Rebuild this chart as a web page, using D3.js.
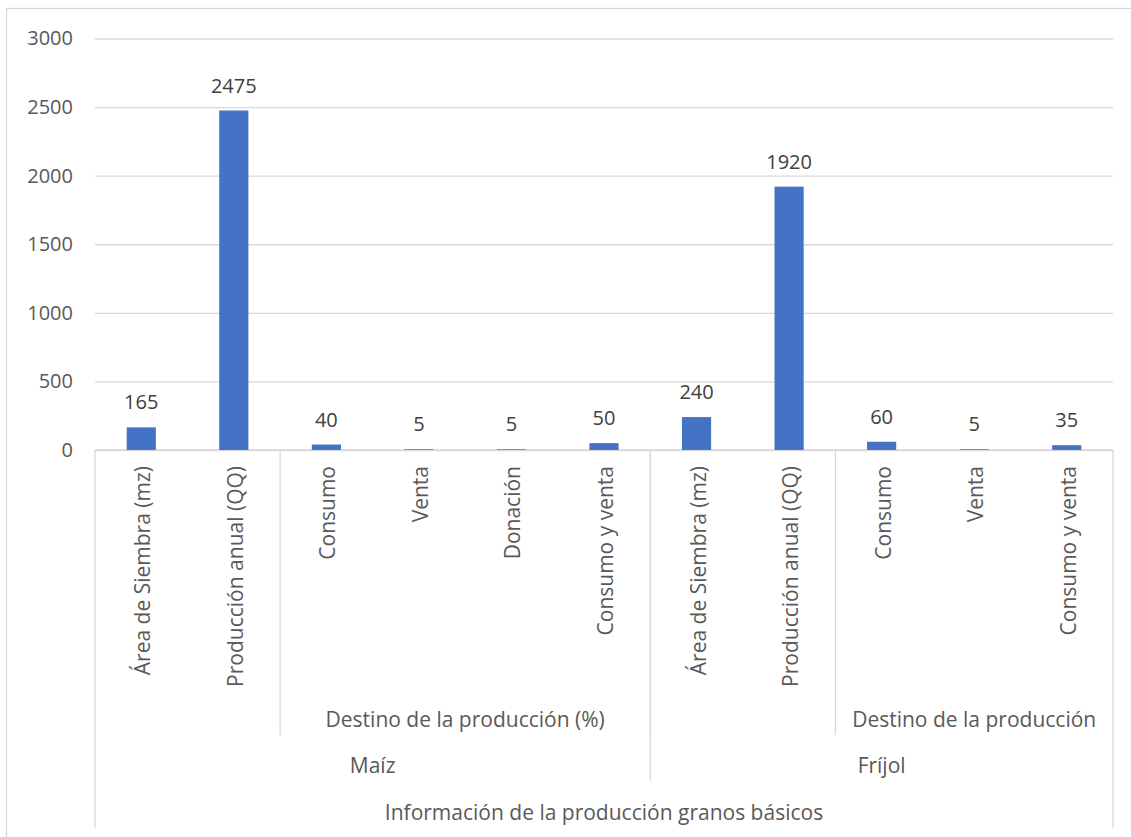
<!DOCTYPE html>
<html>
<head>
<meta charset="utf-8">
<script src="https://cdn.jsdelivr.net/npm/d3@7/dist/d3.min.js"></script>
<style>
  html, body { margin: 0; padding: 0; background: #ffffff; }
  svg { display: block; }
  text { font-family: "Open Sans", "Noto Sans", sans-serif; }
</style>
</head>
<body>
<svg id="chart" width="1131" height="837"></svg>
<script>
// Category labels (innermost axis level), one per bar
const categories = [
  "Área de Siembra (mz)", "Producción anual (QQ)", "Consumo", "Venta", "Donación", "Consumo y venta",
  "Área de Siembra (mz)", "Producción anual (QQ)", "Consumo", "Venta", "Consumo y venta"
];
// Bar values
const values = [165, 2475, 40, 5, 5, 50, 240, 1920, 60, 5, 35];

// Second axis level: group label and number of categories it spans
const subgroupLabels = ["", "Destino de la producción (%)", "", "Destino de la producción"];
const subgroupSizes = [2, 4, 2, 3];

// Third axis level: crop
const cropLabels = ["Maíz", "Fríjol"];
const cropSizes = [6, 5];

// Outermost axis level
const topLabel = "Información de la producción granos básicos";

// Value axis ticks
const yTicks = [0, 500, 1000, 1500, 2000, 2500, 3000];

const svg = d3.select("#chart");
const plot = { left: 95, right: 1113, top: 38.5, bottom: 450 };
const gridColor = "#d9d9d9";
const axisText = "#595959";
const labelText = "#404040";
const barColor = "#4472c4";
const fontSize = 21;

// Outer chart frame
svg.append("rect")
  .attr("x", 6.5).attr("y", 8.5)
  .attr("width", 1140).attr("height", 840)
  .attr("fill", "none").attr("stroke", gridColor).attr("stroke-width", 1.3);

const idx = d3.range(categories.length);
const x = d3.scaleBand()
  .domain(idx)
  .range([plot.left, plot.right])
  .paddingInner(0.685)
  .paddingOuter(0.3425);
const step = x.step();

const y = d3.scaleLinear().domain([0, 3000]).range([plot.bottom, plot.top]);

// Gridlines and value axis
const yAxis = d3.axisLeft(y)
  .tickValues(yTicks)
  .tickFormat(d3.format("d"))
  .tickSize(-(plot.right - plot.left))
  .tickPadding(22);
const gy = svg.append("g").attr("transform", `translate(${plot.left},0)`).call(yAxis);
gy.select(".domain").remove();
gy.selectAll(".tick line").attr("stroke", gridColor).attr("stroke-width", 1.3);
gy.selectAll(".tick text")
  .attr("fill", axisText)
  .attr("font-size", 20)
  .attr("font-family", "\"Open Sans\", sans-serif");

// Category axis baseline
svg.append("line")
  .attr("x1", plot.left).attr("x2", plot.right)
  .attr("y1", y(0)).attr("y2", y(0))
  .attr("stroke", gridColor).attr("stroke-width", 1.3);

// Bars
svg.append("g").selectAll("rect")
  .data(idx)
  .join("rect")
  .attr("x", i => x(i))
  .attr("width", x.bandwidth())
  .attr("y", i => y(values[i]))
  .attr("height", i => y(0) - y(values[i]))
  .attr("fill", barColor);

// Data labels
svg.append("g").selectAll("text")
  .data(idx)
  .join("text")
  .attr("x", i => x(i) + x.bandwidth() / 2)
  .attr("y", i => y(values[i]) - 18)
  .attr("text-anchor", "middle")
  .attr("font-size", 20)
  .attr("fill", labelText)
  .text(i => values[i]);

// Innermost category labels (rotated)
svg.append("g").selectAll("text")
  .data(idx)
  .join("text")
  .attr("transform", i => `translate(${x(i) + x.bandwidth() / 2 + 1},466) rotate(-90)`)
  .attr("text-anchor", "end")
  .attr("dominant-baseline", "central")
  .attr("font-size", fontSize)
  .attr("fill", axisText)
  .text(i => categories[i]);

// Helper: index ranges covered by consecutive spans
function spans(sizes) {
  let acc = 0;
  return sizes.map(s => { const a = acc; acc += s; return [a, acc]; });
}
const xEdge = k => plot.left + k * step;

const divider = svg.append("g").attr("stroke", gridColor).attr("stroke-width", 1.3);

// Second level
const subSpans = spans(subgroupSizes);
subSpans.forEach(([a, b], j) => {
  if (subgroupLabels[j]) {
    svg.append("text")
      .attr("x", (xEdge(a) + xEdge(b)) / 2)
      .attr("y", 727)
      .attr("text-anchor", "middle")
      .attr("font-size", fontSize)
      .attr("fill", axisText)
      .text(subgroupLabels[j]);
  }
});
subSpans.slice(1).forEach(([a]) => {
  divider.append("line").attr("x1", xEdge(a)).attr("x2", xEdge(a)).attr("y1", y(0)).attr("y2", 735);
});

// Third level
const cropSpans = spans(cropSizes);
cropSpans.forEach(([a, b], j) => {
  svg.append("text")
    .attr("x", (xEdge(a) + xEdge(b)) / 2)
    .attr("y", 773)
    .attr("text-anchor", "middle")
    .attr("font-size", fontSize)
    .attr("fill", axisText)
    .text(cropLabels[j]);
});
cropSpans.slice(1).forEach(([a]) => {
  divider.append("line").attr("x1", xEdge(a)).attr("x2", xEdge(a)).attr("y1", y(0)).attr("y2", 781);
});

// Outer level
svg.append("text")
  .attr("x", (plot.left + plot.right) / 2)
  .attr("y", 820)
  .attr("text-anchor", "middle")
  .attr("font-size", fontSize)
  .attr("fill", axisText)
  .text(topLabel);
[plot.left, plot.right].forEach(px => {
  divider.append("line").attr("x1", px).attr("x2", px).attr("y1", y(0)).attr("y2", 828);
});
</script>
</body>
</html>
